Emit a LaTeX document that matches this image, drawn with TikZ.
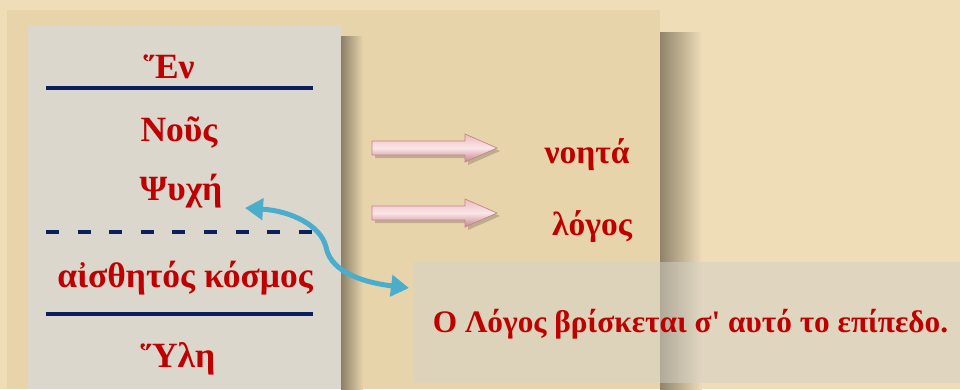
\documentclass[tikz,border=0pt]{standalone}
\usepackage{fontspec}
\setmainfont{Liberation Serif}[Ligatures=TeXOff]
\usetikzlibrary{arrows.meta}
\definecolor{bgc}{HTML}{EFDDB8}
\definecolor{panelc}{HTML}{E8D4AB}
\definecolor{stonec}{HTML}{DCD7CC}
\definecolor{txtred}{HTML}{BE0000}
\definecolor{navy}{HTML}{0B1F5E}
\definecolor{blu}{HTML}{4AADCB}
\definecolor{pinkedge}{HTML}{C4848C}
\definecolor{pinktop}{HTML}{E9BCC0}
\definecolor{pinkmid}{HTML}{FBE6E8}
\definecolor{boxc}{HTML}{D3D1C9}
\tikzset{
  lefttxt/.style={text=txtred, font=\fontsize{35.5}{38}\selectfont\bfseries, anchor=base, inner sep=0pt},
  righttxt/.style={text=txtred, font=\fontsize{33.5}{36}\selectfont\bfseries, anchor=base, inner sep=0pt},
  boxtxt/.style={text=txtred, font=\fontsize{31.3}{34}\selectfont\bfseries, anchor=base, inner sep=0pt},
  pinkarrow/.style={draw=pinkedge, line width=0.7pt,
    top color=pinktop, bottom color=pinkedge, middle color=pinkmid},
  pinkshadow/.style={fill=black, fill opacity=0.18},
  solidrule/.style={navy, line width=4pt},
  dashrule/.style={navy, line width=4pt, dash pattern=on 13pt off 18.6pt},
  bluearrow/.style={blu, line width=5pt, {Triangle[length=18pt,width=21pt]}-{Triangle[length=18pt,width=21pt]}},
  lbox/.style={fill=boxc, fill opacity=0.5, draw=none, minimum width=547pt, minimum height=121pt, inner sep=0pt}
}
\begin{document}
\begin{tikzpicture}[x=1pt,y=-1pt]
\useasboundingbox (0,0) rectangle (960,389);
% background
\fill[bgc] (0,0) rectangle (960,389);
% panel with shadow
\shade[left color=black!38!panelc, right color=bgc] (660,32) rectangle (702,389);
\fill[panelc] (7,10) rectangle (660,389);
% stone box with shadow
\shade[left color=black!40!panelc, right color=panelc] (341,36) rectangle (363,389);
\fill[stonec] (28,25) rectangle (341,389);

% rules
\draw[solidrule] (46,88) -- (313,88);
\draw[dashrule] (46,232) -- (313,232);
\draw[solidrule] (46,314) -- (313,314);

% left texts
\node[lefttxt] (en) at (169,78) {Ἕν};
\node[lefttxt] (nous) at (179,141) {Νοῦς};
\node[lefttxt] (psyche) at (181,200) {Ψυχή};
\node[lefttxt] (kosmos) at (185,287) {αἰσθητός κόσμος};
\node[lefttxt] (hyle) at (178,367) {Ὕλη};

% pink block arrows
\foreach \yc in {148,213}{
  \path[pinkshadow] (375,\yc-4) -- (468,\yc-4) -- (468,\yc-11) -- (500,\yc+3) -- (468,\yc+17) -- (468,\yc+10) -- (375,\yc+10) -- cycle;
  \path[pinkarrow] (372,\yc-7) -- (465,\yc-7) -- (465,\yc-14) -- (497,\yc) -- (465,\yc+14) -- (465,\yc+7) -- (372,\yc+7) -- cycle;
}

% right texts
\node[righttxt] (noeta) at (587,163) {νοητά};
\node[righttxt] (logos) at (592,235) {λόγος};

% bottom box
\node[lbox] (box) at (686.5,322.5) {};
\node[boxtxt] (boxtext) at (690.5,332) {Ο Λόγος βρίσκεται σ' αυτό το επίπεδο.};

% blue double arrow
\coordinate (bstart) at (245,208);
\coordinate (bmid) at (326,247);
\coordinate (bend) at (409,288);
\draw[bluearrow] (bstart) .. controls (292,211) and (321,226) .. (bmid)
  .. controls (331,274) and (368,283) .. (bend);
\end{tikzpicture}
\end{document}
